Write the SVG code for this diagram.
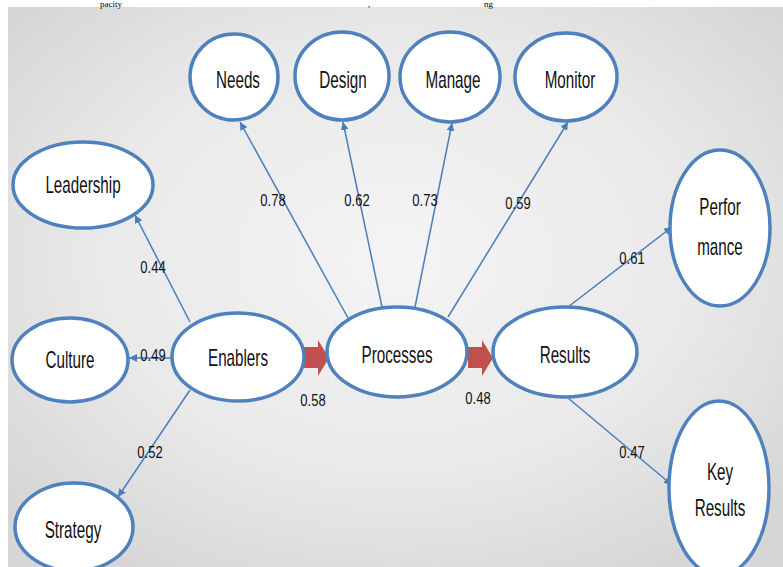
<svg xmlns="http://www.w3.org/2000/svg" width="783" height="567" viewBox="0 0 783 567">
  <defs>
    <radialGradient id="bg" cx="50%" cy="45%" r="65%">
      <stop offset="0" stop-color="#f4f4f4"/>
      <stop offset="0.6" stop-color="#e9e9e9"/>
      <stop offset="1" stop-color="#d6d6d6"/>
    </radialGradient>
    <marker id="ah" viewBox="0 0 10 10" refX="10" refY="5" markerWidth="8" markerHeight="8" markerUnits="userSpaceOnUse" orient="auto">
      <path d="M0,0 L10,5 L0,10 z" fill="#4a7ebb"/>
    </marker>
    <style>
      .node ellipse { fill: #ffffff; stroke: #4f81bd; stroke-width: 3.5; }
      .lbl { font-family: "Liberation Sans", Arial, sans-serif; font-size: 16px; fill: #111111; text-anchor: middle; }
      .num { font-family: "Liberation Sans", Arial, sans-serif; font-size: 13px; fill: #111111; text-anchor: middle; }
      .conn line { stroke: #4a7ebb; stroke-width: 1.5; marker-end: url(#ah); }
      .big { fill: #c0504d; }
      .top { font-family: "Liberation Serif", "Times New Roman", serif; font-size: 9px; fill: #000000; }
    </style>
  </defs>

  <rect x="0" y="0" width="783" height="567" fill="#ffffff"/>
  <rect x="8" y="7" width="775" height="560" fill="url(#bg)"/>
  <text class="top" x="100" y="6.5">pacity</text>
  <text class="top" x="368" y="6.5">,</text>
  <text class="top" x="484" y="6.5">ng</text>

  <g id="connectors" class="conn">
    <line x1="190" y1="322" x2="135" y2="215"/>
    <line x1="172" y1="358" x2="129" y2="358"/>
    <line x1="190" y1="390" x2="118" y2="497"/>
    <line x1="348" y1="318" x2="240" y2="122"/>
    <line x1="382" y1="307" x2="343" y2="122"/>
    <line x1="415" y1="307" x2="452" y2="123"/>
    <line x1="448" y1="317" x2="568" y2="122"/>
    <line x1="568" y1="307" x2="672" y2="227"/>
    <line x1="568" y1="398" x2="672" y2="485"/>
  </g>

  <g id="big-arrows">
    <path class="big" d="M304,347 L318,347 L318,340 L329,358 L318,376 L318,368 L304,368 z"/>
    <path class="big" d="M468,347 L482,347 L482,340 L493,358 L482,376 L482,368 L468,368 z"/>
  </g>

  <g id="labels">
    <text class="num" transform="translate(153,273) scale(1,1.3)">0.44</text>
    <text class="num" transform="translate(153,361) scale(1,1.3)">0.49</text>
    <text class="num" transform="translate(150,458) scale(1,1.3)">0.52</text>
    <text class="num" transform="translate(273,206) scale(1,1.3)">0.78</text>
    <text class="num" transform="translate(357,206) scale(1,1.3)">0.62</text>
    <text class="num" transform="translate(425,206) scale(1,1.3)">0.73</text>
    <text class="num" transform="translate(518,209) scale(1,1.3)">0.59</text>
    <text class="num" transform="translate(632,264) scale(1,1.3)">0.61</text>
    <text class="num" transform="translate(632,458) scale(1,1.3)">0.47</text>
    <text class="num" transform="translate(313,406) scale(1,1.3)">0.58</text>
    <text class="num" transform="translate(478,404) scale(1,1.3)">0.48</text>
  </g>

  <g id="leadership" class="node">
    <ellipse cx="83" cy="185" rx="70" ry="43"/>
    <text class="lbl" transform="translate(83,193) scale(0.95,1.45)">Leadership</text>
  </g>
  <g id="culture" class="node">
    <ellipse cx="70" cy="360" rx="58" ry="42"/>
    <text class="lbl" transform="translate(70,368) scale(0.95,1.45)">Culture</text>
  </g>
  <g id="strategy" class="node">
    <ellipse cx="74" cy="527" rx="59" ry="44"/>
    <text class="lbl" transform="translate(73,538) scale(0.95,1.45)">Strategy</text>
  </g>
  <g id="enablers" class="node">
    <ellipse cx="238" cy="357" rx="66" ry="44"/>
    <text class="lbl" transform="translate(238,366) scale(0.95,1.45)">Enablers</text>
  </g>
  <g id="processes" class="node">
    <ellipse cx="397" cy="352" rx="70" ry="45"/>
    <text class="lbl" transform="translate(397,363) scale(0.95,1.45)">Processes</text>
  </g>
  <g id="results" class="node">
    <ellipse cx="565" cy="352" rx="72" ry="45"/>
    <text class="lbl" transform="translate(565,363) scale(0.95,1.45)">Results</text>
  </g>
  <g id="needs" class="node">
    <ellipse cx="234" cy="77" rx="44" ry="43"/>
    <text class="lbl" transform="translate(238,88) scale(0.95,1.45)">Needs</text>
  </g>
  <g id="design" class="node">
    <ellipse cx="342" cy="76" rx="47" ry="44"/>
    <text class="lbl" transform="translate(343,88) scale(0.95,1.45)">Design</text>
  </g>
  <g id="manage" class="node">
    <ellipse cx="450" cy="77" rx="50" ry="45"/>
    <text class="lbl" transform="translate(453,88) scale(0.95,1.45)">Manage</text>
  </g>
  <g id="monitor" class="node">
    <ellipse cx="566" cy="77" rx="51" ry="44"/>
    <text class="lbl" transform="translate(570,88) scale(0.95,1.45)">Monitor</text>
  </g>
  <g id="performance" class="node">
    <ellipse cx="720" cy="228" rx="50" ry="78"/>
    <text class="lbl" transform="translate(720,215) scale(0.95,1.45)">Perfor</text>
    <text class="lbl" transform="translate(720,255) scale(0.95,1.45)">mance</text>
  </g>
  <g id="key-results" class="node">
    <ellipse cx="719" cy="488" rx="50" ry="87"/>
    <text class="lbl" transform="translate(720,480) scale(0.95,1.45)">Key</text>
    <text class="lbl" transform="translate(720,516) scale(0.95,1.45)">Results</text>
  </g>
</svg>
